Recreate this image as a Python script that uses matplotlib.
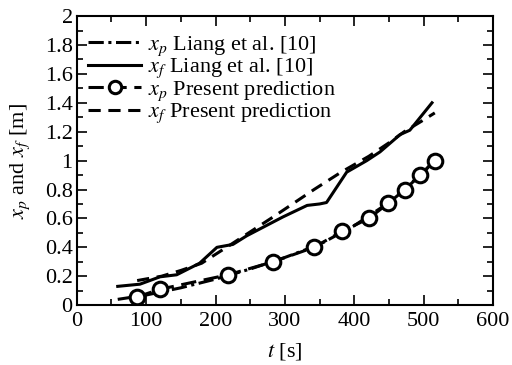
import matplotlib
matplotlib.use("Agg")
import matplotlib.pyplot as plt
from matplotlib.ticker import MultipleLocator, FuncFormatter

plt.rcParams['font.family'] = ['Liberation Serif', 'DejaVu Serif']
plt.rcParams['mathtext.fontset'] = 'stix'

# x_p Liang et al. [10]
t_xp_liang = [59, 100, 150, 200, 250, 300, 350, 400, 450, 500, 515]
xp_liang = [0.04, 0.07, 0.12, 0.18, 0.25, 0.33, 0.42, 0.55, 0.71, 0.92, 1.00]

# x_f Liang et al. [10]
t_xf_liang = [59, 91, 120, 144, 177, 202, 225, 245, 297, 332, 350, 360, 389, 418, 437, 466, 480, 512]
xf_liang = [0.13, 0.145, 0.196, 0.21, 0.29, 0.40, 0.42, 0.48, 0.61, 0.69, 0.70, 0.71, 0.92, 1.00, 1.06, 1.18, 1.21, 1.40]

# x_p Present prediction
t_xp_pred = [87, 120, 218, 283, 342, 382, 421, 449, 473, 495, 516]
xp_pred = [0.057, 0.11, 0.21, 0.30, 0.40, 0.51, 0.60, 0.705, 0.80, 0.90, 1.00]

# x_f Present prediction
t_xf_pred = [87, 122, 150, 180, 219, 283, 342, 381, 421, 449, 472, 496, 516]
xf_pred = [0.17, 0.20, 0.24, 0.29, 0.41, 0.61, 0.80, 0.92, 1.03, 1.12, 1.20, 1.27, 1.33]

fig = plt.figure(figsize=(5.12, 3.65), dpi=100)
ax = fig.add_axes([0.150, 0.164, 0.813, 0.792])

lw = 2.2
ax.plot(t_xp_liang, xp_liang, color='black', lw=lw, dashes=(5, 1.5, 1, 1.5),
        label=r'$x_p$ Liang et al. [10]')
ax.plot(t_xf_liang, xf_liang, color='black', lw=lw, linestyle='-',
        label=r'$x_f$ Liang et al. [10]')
ax.plot(t_xp_pred, xp_pred, color='black', lw=lw, dashes=(5, 2.5),
        marker='o', markersize=10.5, markerfacecolor='white', markeredgewidth=2.2,
        label=r'$x_p$ Present prediction')
ax.plot(t_xf_pred, xf_pred, color='black', lw=lw, dashes=(4, 2.5),
        label=r'$x_f$ Present prediction')

ax.set_xlim(0, 600)
ax.set_ylim(0, 2)
ax.xaxis.set_major_locator(MultipleLocator(100))
ax.xaxis.set_minor_locator(MultipleLocator(50))
ax.yaxis.set_major_locator(MultipleLocator(0.2))
ax.yaxis.set_minor_locator(MultipleLocator(0.1))
ax.yaxis.set_major_formatter(FuncFormatter(lambda v, p: '%g' % round(v, 2)))

ax.tick_params(which='both', direction='in', top=True, right=True, labelsize=16, width=1.2)
ax.tick_params(which='major', length=7)
ax.tick_params(which='minor', length=4)
ax.tick_params(axis='x', which='major', pad=5)
ax.tick_params(axis='y', which='major', pad=3)
for s in ax.spines.values():
    s.set_linewidth(1.5)

ax.set_xlabel(r'$t$ [s]', fontsize=16, labelpad=7)
ax.set_ylabel(r'$x_p$ and $x_f$ [m]', fontsize=16, labelpad=9)

leg = ax.legend(loc='upper left', frameon=False, fontsize=16, handlelength=2.4,
                handletextpad=0.3, labelspacing=-0.05, borderaxespad=0.1,
                bbox_to_anchor=(0.0, 0.975), markerscale=0.85)

fig.savefig('out.png', dpi=100)
